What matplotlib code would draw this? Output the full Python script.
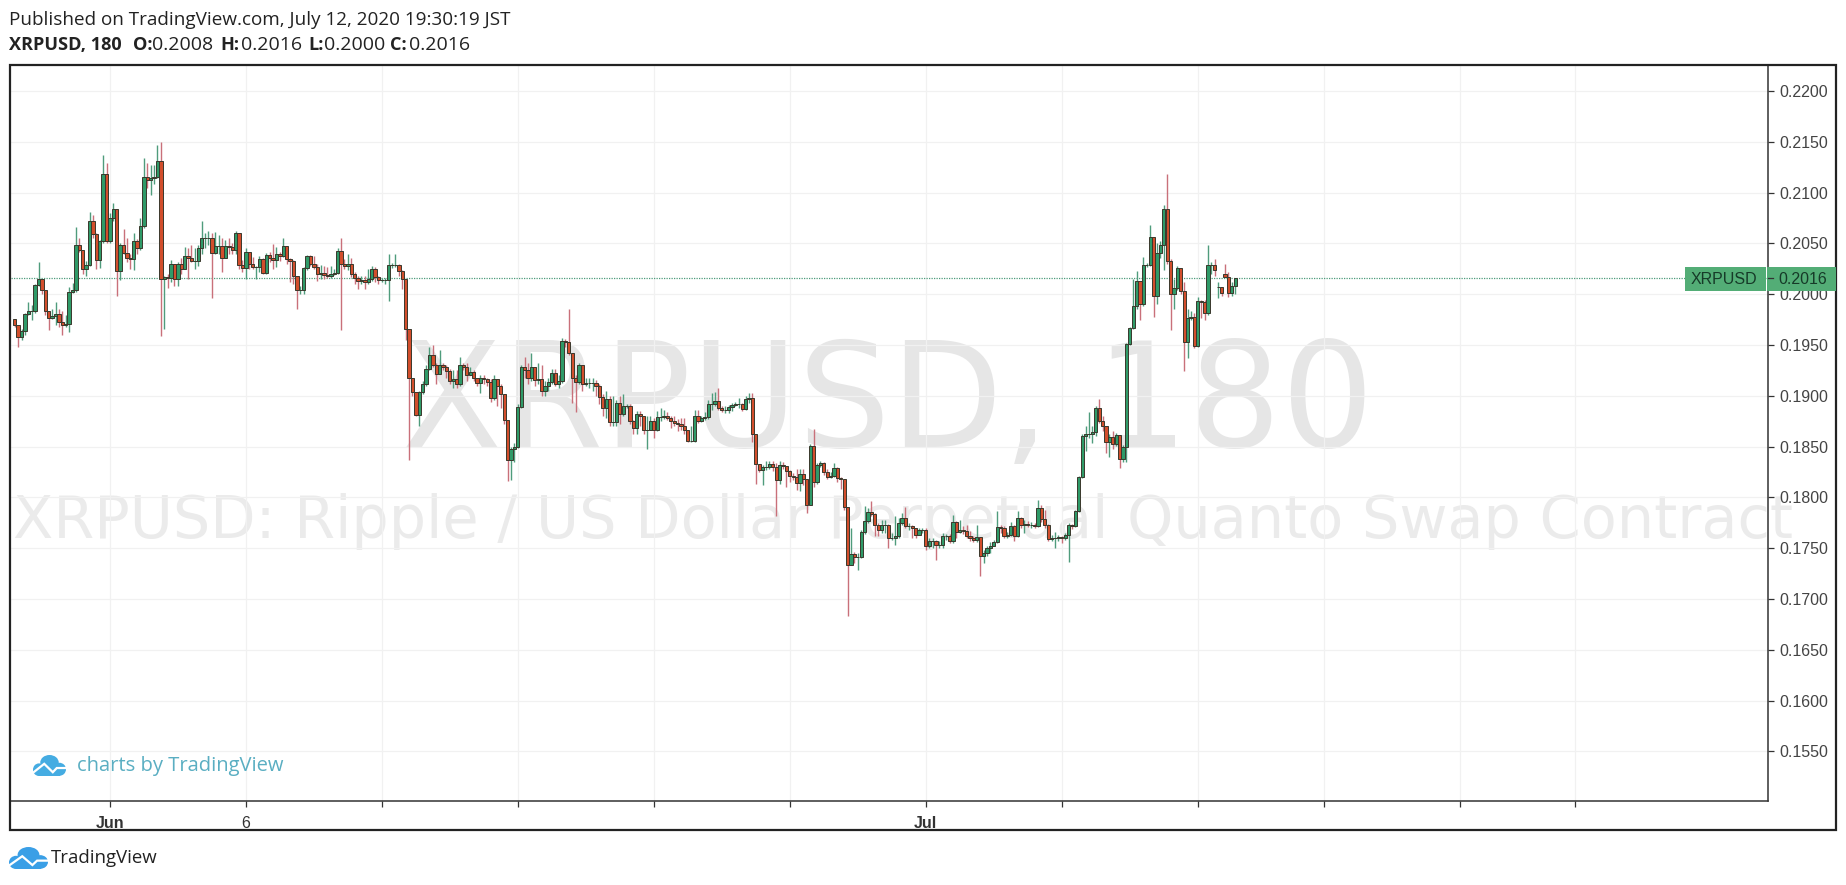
import numpy as np
import matplotlib
matplotlib.use("Agg")
import matplotlib.pyplot as plt
from matplotlib.patches import Rectangle, Ellipse

# prices in units of 0.0001, one candle per 3 hours
opens = [
    1976,1970,1958,1964,1981,1983,1983,2009,2015,2004,
    1983,1977,1979,1981,1973,1970,1971,2002,2004,2048,
    2044,2025,2029,2072,2059,2034,2052,2118,2052,2075,
    2084,2023,2048,2041,2036,2035,2052,2045,2067,2115,
    2112,2114,2115,2131,2015,2017,2016,2030,2015,2030,
    2025,2038,2036,2033,2033,2045,2055,2055,2055,2041,
    2047,2047,2036,2047,2046,2044,2060,2029,2026,2042,
    2030,2027,2027,2035,2021,2039,2036,2034,2040,2038,
    2047,2035,2033,2018,2004,2004,2026,2038,2030,2027,
    2020,2021,2019,2018,2020,2021,2043,2030,2028,2030,
    2020,2016,2013,2014,2012,2015,2025,2017,2014,2014,
    2014,2029,2029,2029,2023,2015,1966,1918,1904,1881,
    1904,1912,1926,1940,1930,1921,1930,1928,1924,1915,
    1917,1912,1930,1928,1920,1923,1918,1913,1918,1917,
    1914,1898,1917,1910,1902,1876,1837,1848,1850,1889,
    1928,1925,1918,1928,1916,1917,1905,1910,1914,1922,
    1912,1915,1954,1953,1942,1918,1914,1930,1912,1913,
    1913,1913,1910,1899,1888,1897,1874,1874,1893,1882,
    1890,1890,1875,1868,1882,1880,1866,1866,1875,1866,
    1879,1879,1880,1878,1875,1873,1872,1870,1866,1856,
    1856,1880,1875,1878,1879,1892,1892,1895,1888,1886,
    1886,1889,1891,1892,1892,1887,1897,1898,1862,1833,
    1827,1830,1830,1833,1830,1817,1832,1831,1826,1821,
    1820,1814,1823,1818,1793,1851,1815,1832,1834,1825,
    1820,1821,1829,1819,1818,1791,1733,1744,1741,1741,
    1766,1777,1786,1784,1773,1768,1773,1773,1760,1760,
    1762,1775,1780,1772,1772,1770,1763,1768,1768,1752,
    1757,1757,1753,1753,1762,1762,1757,1776,1766,1768,
    1767,1762,1760,1758,1761,1742,1745,1750,1752,1756,
    1771,1770,1762,1763,1772,1762,1780,1773,1774,1773,
    1773,1772,1790,1779,1773,1759,1760,1760,1761,1760,
    1763,1773,1772,1787,1820,1860,1862,1862,1864,1888,
    1875,1870,1855,1859,1853,1861,1838,1850,1951,1967,
    1988,2013,1990,2029,2029,2056,1998,2041,2048,2084,
    2033,2000,2006,2026,2003,1953,1977,1978,1949,1993,
    1992,1982,2029,2029,2007,2007,2020,2017,2001,2008,
]
highs = [
    1976,1970,1966,1982,1992,1989,2010,2032,2015,2004,
    1983,1985,1992,1985,1983,1980,2007,2011,2066,2055,
    2044,2033,2081,2078,2060,2053,2137,2129,2080,2090,
    2084,2050,2064,2055,2040,2060,2054,2075,2134,2129,
    2127,2127,2147,2150,2018,2020,2034,2030,2032,2036,
    2046,2045,2048,2045,2048,2072,2060,2062,2060,2061,
    2058,2055,2053,2055,2050,2062,2060,2034,2045,2042,
    2037,2028,2038,2036,2041,2042,2049,2046,2042,2055,
    2047,2036,2034,2018,2008,2027,2039,2039,2038,2030,
    2029,2028,2027,2028,2025,2045,2055,2035,2040,2036,
    2022,2018,2018,2018,2025,2028,2027,2018,2016,2016,
    2040,2031,2040,2030,2024,2015,1966,1918,1904,1905,
    1915,1930,1948,1950,1932,1945,1932,1930,1926,1925,
    1925,1938,1932,1932,1928,1925,1918,1920,1920,1918,
    1917,1920,1917,1912,1902,1876,1850,1854,1892,1930,
    1938,1932,1942,1928,1932,1930,1915,1918,1926,1926,
    1920,1957,1956,1985,1942,1920,1932,1930,1918,1918,
    1918,1916,1912,1902,1905,1900,1900,1896,1900,1902,
    1892,1892,1876,1885,1885,1880,1880,1880,1878,1885,
    1888,1886,1884,1880,1880,1877,1878,1878,1866,1870,
    1886,1886,1880,1884,1896,1903,1904,1908,1890,1890,
    1891,1893,1894,1898,1893,1900,1903,1903,1862,1833,
    1832,1836,1836,1836,1834,1836,1835,1831,1827,1824,
    1828,1828,1828,1818,1853,1867,1834,1836,1835,1828,
    1825,1834,1830,1820,1818,1791,1770,1746,1745,1768,
    1792,1790,1796,1785,1775,1778,1778,1774,1765,1782,
    1780,1785,1791,1775,1773,1770,1770,1770,1770,1760,
    1760,1758,1757,1765,1764,1764,1783,1777,1778,1772,
    1773,1767,1762,1773,1761,1748,1752,1756,1758,1787,
    1773,1772,1766,1776,1773,1787,1781,1778,1777,1776,
    1775,1797,1793,1788,1774,1763,1766,1763,1762,1765,
    1775,1774,1788,1821,1862,1870,1884,1870,1890,1897,
    1880,1870,1862,1865,1863,1861,1852,1952,1968,2015,
    2023,2013,2037,2031,2068,2056,2050,2052,2088,2118,
    2035,2015,2028,2026,2012,1985,1983,1982,1997,1994,
    1994,2048,2032,2035,2012,2007,2030,2022,2012,2016,
]
lows = [
    1968,1948,1955,1960,1980,1975,1982,2008,2000,1980,
    1965,1976,1970,1968,1960,1968,1963,2001,2002,2042,
    2020,2018,2028,2055,2025,2026,2050,2050,2050,2072,
    1998,2014,2040,2032,2025,2024,2040,2044,2065,2105,
    2098,2108,2114,1959,1966,2006,2012,2008,2008,2020,
    2030,2015,2032,2025,2028,2040,2045,2048,1996,2040,
    2040,2022,2037,2040,2040,2040,2025,2022,2015,2025,
    2025,2015,2022,2020,2020,2032,2025,2027,2033,2037,
    2030,2012,2010,1985,2000,2000,2024,2028,2025,2013,
    2015,2015,2016,2016,2019,2020,1965,2025,2024,2017,
    2010,2005,2010,2005,2010,2013,2012,2010,2012,2010,
    1993,2026,2027,2018,2005,1955,1837,1900,1880,1870,
    1902,1910,1925,1928,1912,1925,1925,1918,1912,1908,
    1908,1910,1925,1915,1920,1915,1910,1903,1912,1910,
    1894,1896,1890,1888,1872,1816,1817,1835,1849,1888,
    1918,1912,1915,1910,1912,1900,1900,1905,1912,1910,
    1908,1913,1948,1940,1893,1884,1912,1905,1910,1908,
    1905,1900,1892,1880,1878,1870,1870,1870,1872,1880,
    1888,1872,1862,1862,1870,1862,1848,1866,1858,1865,
    1875,1877,1876,1868,1870,1865,1866,1862,1855,1855,
    1855,1873,1874,1876,1877,1886,1890,1886,1884,1883,
    1883,1885,1890,1888,1885,1886,1893,1855,1813,1825,
    1812,1827,1828,1826,1782,1813,1828,1810,1815,1817,
    1807,1806,1812,1785,1793,1810,1813,1830,1822,1818,
    1819,1820,1815,1808,1788,1683,1733,1735,1729,1740,
    1764,1775,1782,1762,1762,1765,1765,1750,1758,1753,
    1760,1773,1770,1768,1760,1760,1763,1765,1748,1750,
    1750,1738,1750,1750,1758,1755,1755,1760,1765,1764,
    1760,1757,1756,1756,1723,1735,1742,1745,1752,1755,
    1765,1760,1760,1762,1757,1761,1770,1765,1771,1770,
    1770,1771,1776,1770,1757,1757,1750,1757,1755,1758,
    1736,1769,1771,1786,1819,1846,1858,1854,1860,1873,
    1865,1844,1840,1848,1851,1829,1835,1835,1950,1966,
    1985,1975,1988,2027,2028,1978,1990,2036,2024,2030,
    1965,1985,2004,2000,1924,1937,1975,1947,1948,1977,
    1975,1980,2020,2018,1996,1998,2017,1997,1998,2000,
]
closes = [
    1970,1958,1964,1981,1983,1983,2009,2015,2004,1983,
    1977,1979,1981,1973,1970,1971,2002,2004,2048,2044,
    2025,2029,2072,2059,2034,2052,2118,2052,2075,2084,
    2023,2048,2041,2036,2035,2052,2045,2067,2115,2112,
    2114,2115,2131,2015,2017,2016,2030,2015,2030,2025,
    2038,2036,2033,2033,2045,2055,2055,2055,2041,2047,
    2047,2036,2047,2046,2044,2060,2029,2026,2042,2030,
    2027,2027,2035,2021,2039,2036,2034,2040,2038,2047,
    2035,2033,2018,2004,2004,2026,2038,2030,2027,2020,
    2021,2019,2018,2020,2021,2043,2030,2028,2030,2020,
    2016,2013,2014,2012,2015,2025,2017,2014,2014,2014,
    2029,2029,2029,2023,2015,1966,1918,1904,1881,1904,
    1912,1926,1940,1930,1921,1930,1928,1924,1915,1917,
    1912,1930,1928,1920,1923,1918,1913,1918,1917,1914,
    1898,1917,1910,1902,1876,1837,1848,1850,1889,1928,
    1925,1918,1928,1916,1917,1905,1910,1914,1922,1912,
    1915,1954,1953,1942,1918,1914,1930,1912,1913,1913,
    1913,1910,1899,1888,1897,1874,1874,1893,1882,1890,
    1890,1875,1868,1882,1880,1866,1866,1875,1866,1879,
    1879,1880,1878,1875,1873,1872,1870,1866,1856,1856,
    1880,1875,1878,1879,1892,1892,1895,1888,1886,1886,
    1889,1891,1892,1892,1887,1897,1898,1862,1833,1827,
    1830,1830,1833,1830,1817,1832,1831,1826,1821,1820,
    1814,1823,1818,1793,1851,1815,1832,1834,1825,1820,
    1821,1829,1819,1818,1791,1733,1744,1741,1741,1766,
    1777,1786,1784,1773,1768,1773,1773,1760,1760,1762,
    1775,1780,1772,1772,1770,1763,1768,1768,1752,1757,
    1757,1753,1753,1762,1762,1757,1776,1766,1768,1767,
    1762,1760,1758,1761,1742,1745,1750,1752,1756,1771,
    1770,1762,1763,1772,1762,1780,1773,1774,1773,1773,
    1772,1790,1779,1773,1759,1760,1760,1761,1760,1763,
    1773,1772,1787,1820,1860,1862,1862,1864,1888,1875,
    1870,1855,1859,1853,1861,1838,1850,1951,1967,1988,
    2013,1990,2029,2029,2056,1998,2041,2048,2084,2033,
    2000,2006,2026,2003,1953,1977,1978,1949,1993,1992,
    1982,2029,2029,2024,2007,2001,2017,2001,2008,2016,
]
price_ticks = [0.1550, 0.1600, 0.1650, 0.1700, 0.1750, 0.1800, 0.1850, 0.1900,
               0.1950, 0.2000, 0.2050, 0.2100, 0.2150, 0.2200]
time_ticks = [28, 68, 108, 148, 188, 228, 268, 308, 348, 385, 425, 459]
time_labels = ["Jun", "6", "", "", "", "", "Jul", "", "", "", "", ""]
last_price = 0.2016

W, H = 1846, 885
UP = "#2f9a68"
DOWN = "#d24e2c"
UP_WICK = "#4f9c7c"
DOWN_WICK = "#c9707a"
OUTLINE = "#3a382c"
LABEL_GREEN = "#53ad76"


def cloud(ax, x, y, w, h, color):
    """small cloud logo, x/y is the top left corner in pixels"""
    ax.add_patch(Ellipse((x + w * 0.5, y + h * 0.36), w * 0.56, h * 0.72, color=color, lw=0))
    ax.add_patch(Ellipse((x + w * 0.8, y + h * 0.68), w * 0.4, h * 0.62, color=color, lw=0))
    ax.add_patch(Ellipse((x + w * 0.18, y + h * 0.7), w * 0.36, h * 0.6, color=color, lw=0))
    ax.add_patch(Rectangle((x + w * 0.18, y + h * 0.6), w * 0.64, h * 0.4, color=color, lw=0))
    ax.plot([x + w * 0.02, x + w * 0.34, x + w * 0.6, x + w * 0.72, x + w * 0.98],
            [y + h * 0.82, y + h * 0.42, y + h * 0.82, y + h * 0.62, y + h * 0.62],
            color="white", lw=1.6, solid_joinstyle="miter")


fig = plt.figure(figsize=(W / 100, H / 100), dpi=100, facecolor="white")

# watermarks sit under the chart
bg = fig.add_axes([0, 0, 1, 1], zorder=0)
bg.set_xlim(0, W)
bg.set_ylim(H, 0)
bg.axis("off")
bg.text(888, 447, "XRPUSD, 180", fontsize=105, family="DejaVu Sans", color="#e6e6e6",
        ha="center", va="baseline")
bg.text(13, 538, "XRPUSD: Ripple / US Dollar Perpetual Quanto Swap Contract", fontsize=42.4,
        family="DejaVu Sans", color="#ebebeb", ha="left", va="baseline")

ax = fig.add_axes([11 / W, 1 - 801 / H, (1768 - 11) / W, (801 - 65) / H], zorder=1)
ax.patch.set_alpha(0)
o = np.array(opens) / 10000
h = np.array(highs) / 10000
l = np.array(lows) / 10000
c = np.array(closes) / 10000
x = np.arange(len(c))
up = c >= o

ax.vlines(x[up], l[up], h[up], color=UP_WICK, lw=1.0, zorder=3)
ax.vlines(x[~up], l[~up], h[~up], color=DOWN_WICK, lw=1.0, zorder=3)
ax.bar(x[up], (c - o)[up], bottom=o[up], width=0.95, color=UP, edgecolor=OUTLINE, lw=0.7, zorder=4)
ax.bar(x[~up], (c - o)[~up], bottom=o[~up], width=0.95, color=DOWN, edgecolor=OUTLINE, lw=0.7, zorder=4)

ax.axhline(last_price, color="#4f9c7c", lw=0.9, ls=(0, (1, 1)), zorder=2)

ax.set_xlim(-1.09, 515.7)
ax.set_ylim(0.15012, 0.22256)
ax.yaxis.tick_right()
ax.set_yticks(price_ticks)
ax.set_yticklabels([f"{p:.4f}" for p in price_ticks], family="Liberation Sans", fontsize=11.5, color="#444444")
ax.set_xticks(time_ticks)
ax.set_xticklabels(time_labels, family="Liberation Sans", fontsize=11.5, color="#333333")
ax.get_xticklabels()[0].set_fontweight("bold")
ax.get_xticklabels()[6].set_fontweight("bold")
ax.tick_params(axis="both", length=4.5, width=0.9, color="#333333", pad=4)
ax.tick_params(axis="x", pad=6)
ax.grid(True, color="#f1f1f1", lw=0.9, zorder=0)
ax.set_axisbelow(True)
for side in ["left", "top"]:
    ax.spines[side].set_visible(False)
ax.spines["right"].set_color("#333333")
ax.spines["bottom"].set_color("#333333")
ax.spines["right"].set_linewidth(1.1)
ax.spines["bottom"].set_linewidth(1.1)

# frame, price label, header and logos are in pixel coordinates
top = fig.add_axes([0, 0, 1, 1], zorder=2)
top.set_xlim(0, W)
top.set_ylim(H, 0)
top.axis("off")
top.patch.set_alpha(0)
top.add_patch(Rectangle((10, 65), 1826, 765, fill=False, edgecolor="#222222", lw=1.6))
top.add_patch(Rectangle((1685, 267), 81, 24, color=LABEL_GREEN, lw=0))
top.add_patch(Rectangle((1767, 267), 69, 24, color=LABEL_GREEN, lw=0))
top.text(1691, 279.5, "XRPUSD", family="Liberation Sans", fontsize=11.5, color="#163a28", va="center")
top.plot([1768, 1773], [278, 278], color="#333333", lw=0.9)
top.text(1778, 279.5, "0.2016", family="Liberation Sans", fontsize=11.5, color="#163a28", va="center")

top.text(9, 20, "Published on TradingView.com, July 12, 2020 19:30:19 JST", family="Open Sans",
         fontsize=13.6, color="#222222", va="center")
for tx, label, weight, size in [(9, "XRPUSD, 180", "bold", 13.1), (133, "O:", "bold", 13.1), (152, "0.2008", "normal", 14),
                                (220, "H:", "bold", 13.1), (241, "0.2016", "normal", 14), (308, "L:", "bold", 13.1),
                                (324, "0.2000", "normal", 14), (390, "C:", "bold", 13.1), (409, "0.2016", "normal", 14)]:
    top.text(tx, 45, label, family="Open Sans", fontsize=size, fontweight=weight, color="#222222", va="center")

cloud(top, 33, 755, 33, 21, "#45ace2")
top.text(77, 766, "charts by TradingView", family="Open Sans", fontsize=14.5, color="#5aaec2", va="center")
cloud(top, 9, 847, 39, 22, "#3a9fe6")
top.text(51, 858, "TradingView", family="Open Sans", fontsize=13.4, color="#222222", va="center")

fig.savefig("out.png", dpi=100)
